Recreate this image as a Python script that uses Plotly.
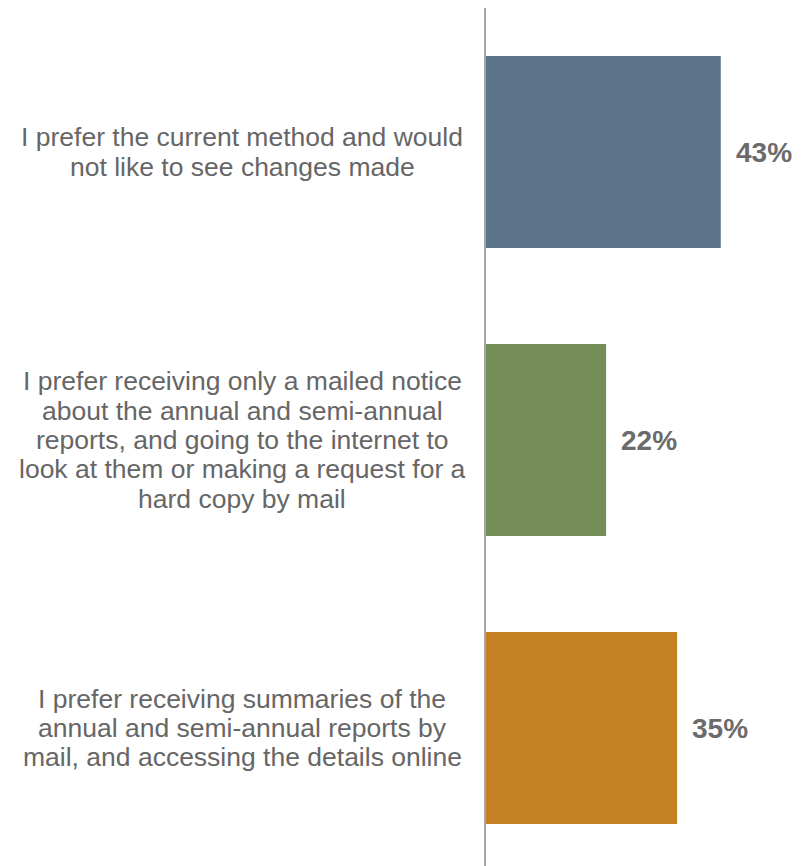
import plotly.graph_objects as go

# Survey responses: preferred way of receiving annual / semi-annual reports
categories = [
    "I prefer the current method and would<br>not like to see changes made",
    "I prefer receiving only a mailed notice<br>about the annual and semi-annual<br>reports, and going to the internet to<br>look at them or making a request for a<br>hard copy by mail",
    "I prefer receiving summaries of the<br>annual and semi-annual reports by<br>mail, and accessing the details online",
]
values = [43, 22, 35]
colors = ["#5b7489", "#758d56", "#c48124"]

W, H = 804, 866
left, top = 486, 8
plot_w = W - left
px_per_unit = 5.46          # horizontal pixels per percentage point
band = 288                  # vertical pixels per category
line_gap = 29.3             # spacing between wrapped label lines

fig = go.Figure()
fig.add_trace(go.Bar(
    y=list(range(len(categories))),
    x=values,
    orientation="h",
    marker=dict(color=colors, line=dict(width=0)),
    width=0.667,
    hoverinfo="skip",
))

label_font = dict(family="Arial, Liberation Sans, sans-serif", size=26.5, color="#666666")
value_font = dict(family="Arial, Liberation Sans, sans-serif", size=28, color="#6b6b6b")

for i, (cat, v) in enumerate(zip(categories, values)):
    lines = cat.split("<br>")
    n = len(lines)
    for k, line in enumerate(lines):
        fig.add_annotation(
            x=0, xref="paper", y=i, yref="y",
            text=line, showarrow=False, align="center",
            xanchor="center", yanchor="middle",
            xshift=-244, yshift=-(k - (n - 1) / 2) * line_gap,
            font=label_font,
        )
    fig.add_annotation(
        x=v, xref="x", y=i, yref="y",
        text=f"<b>{v}%</b>", showarrow=False,
        xanchor="left", yanchor="middle", xshift=13,
        font=value_font,
    )

plot_h = H - top
fig.update_layout(
    width=W, height=H,
    margin=dict(l=left, r=0, t=top, b=0, pad=0),
    paper_bgcolor="white", plot_bgcolor="white",
    showlegend=False,
    xaxis=dict(range=[0, plot_w / px_per_unit], visible=False, fixedrange=True),
    yaxis=dict(
        range=[-0.5 + plot_h / band, -0.5],
        showticklabels=False, showgrid=False, zeroline=False, ticks="",
        showline=True, linecolor="#a6a6a6", linewidth=2,
        fixedrange=True,
    ),
)

fig.write_html("out.html", config={"displayModeBar": False})
